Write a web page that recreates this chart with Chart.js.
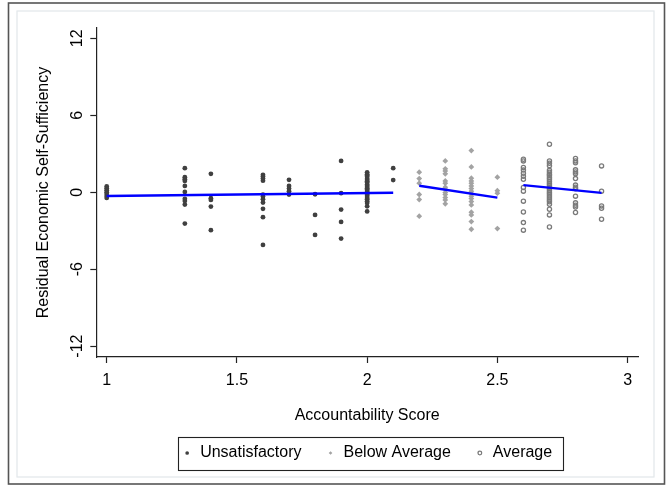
<!DOCTYPE html>
<html><head><meta charset="utf-8">
<script src="https://cdn.jsdelivr.net/npm/chart.js@4.4.0/dist/chart.umd.min.js"></script>
<style>html,body{margin:0;padding:0;background:#fff;} canvas{display:block;}</style>
</head><body>
<canvas id="c" width="669" height="485"></canvas>
<script>
const seriesNames = ['Unsatisfactory', 'Below Average', 'Average'];
const xTicks = [1, 1.5, 2, 2.5, 3];
const yTicks = [-12, -6, 0, 6, 12];

const unsatScores = [1.0, 1.3, 1.4, 1.6, 1.7, 1.8, 1.9, 2.0, 2.1];
const unsatResiduals = [
  [0.45, 0.3, 0.15, 0.0, -0.15, -0.3, -0.45],
  [1.87, 1.17, 1.01, 0.88, 0.49, 0.02, -0.52, -0.68, -0.97, -2.45],
  [1.43, -0.47, -0.6, -1.12, -2.96],
  [1.35, 1.22, 1.06, 0.9, -0.19, -0.34, -0.55, -0.81, -1.3, -1.95, -4.11],
  [0.96, 0.49, 0.28, 0.08, -0.19],
  [-0.16, -1.77, -3.33],
  [2.44, -0.08, -1.36, -2.32, -3.62],
  [1.55, 1.4, 1.3, 1.2, 1.05, 0.95, 0.85, 0.75, 0.6, 0.5, 0.4, 0.3, 0.2, 0.1, 0.0, -0.1, -0.2, -0.3, -0.45, -0.55, -0.7, -0.85, -1.1, -1.5],
  [1.87, 0.94]
];

const belowScores = [2.2, 2.3, 2.4, 2.5];
const belowResiduals = [
  [1.56, 1.06, 0.7, -0.18, -0.58, -1.87],
  [2.44, 1.82, 1.66, 1.43, 0.88, 0.7, 0.39, 0.23, -0.03, -0.19, -0.42, -0.6, -0.91],
  [3.24, 1.97, 1.09, 0.88, 0.7, 0.49, 0.28, 0.08, -0.11, -0.31, -0.5, -0.73, -0.99, -1.56, -1.77, -2.29, -2.89],
  [1.17, 0.12, -0.08, -2.84]
];

const avgScores = [2.6, 2.7, 2.8, 2.9];
const avgResiduals = [
  [2.57, 2.44, 1.92, 1.72, 1.48, 1.25, 1.01, 0.36, 0.08, -0.7, -1.54, -2.37, -2.96],
  [3.74, 2.44, 2.26, 2.07, 1.7, 1.55, 1.4, 1.3, 1.15, 1.0, 0.85, 0.7, 0.55, 0.4, 0.3, 0.15, 0.0, -0.15, -0.3, -0.45, -0.6, -0.75, -0.94, -1.33, -1.77, -2.71],
  [2.62, 2.44, 2.29, 1.74, 1.58, 1.43, 1.06, 0.55, 0.39, 0.26, -0.31, -0.83, -1.01, -1.15, -1.59],
  [2.05, 0.08, -1.07, -1.25, -2.11]
];

const unsatFitX = [1.0, 2.1];
const unsatFitY = [-0.3, -0.04];
const belowFitX = [2.2, 2.5];
const belowFitY = [0.5, -0.42];
const avgFitX = [2.6, 2.9];
const avgFitY = [0.55, -0.05];

const FONT = '"Liberation Sans", Arial, Helvetica, sans-serif';

function toPoints(scores, residuals) {
  const pts = [];
  scores.forEach((s, i) => residuals[i].forEach(r => pts.push({x: s, y: r})));
  return pts;
}
function toLine(xs, ys) { return xs.map((x, i) => ({x: x, y: ys[i]})); }

const framePlugin = {
  id: 'frames',
  beforeDraw(chart) {
    const ctx = chart.ctx;
    ctx.save();
    ctx.fillStyle = '#ffffff';
    ctx.fillRect(0, 0, chart.width, chart.height);
    ctx.strokeStyle = '#e2e7ea';
    ctx.lineWidth = 1.2;
    ctx.strokeRect(17, 11, 637, 466);
    ctx.strokeStyle = '#555555';
    ctx.lineWidth = 1.6;
    ctx.strokeRect(8.5, 3, 656, 481);
    ctx.restore();
  },
  afterDraw(chart) {
    const lg = chart.legend;
    const hb = lg && lg.legendHitBoxes;
    if (!hb || !hb.length) return;
    const ctx = chart.ctx;
    const first = hb[0], last = hb[hb.length - 1];
    const cy = first.top + first.height / 2;
    const x0 = first.left - 4.5, x1 = last.left + last.width + 10;
    ctx.save();
    ctx.strokeStyle = '#222222';
    ctx.lineWidth = 1.1;
    ctx.strokeRect(Math.round(x0) + 0.5, Math.round(cy - 16.5) + 0.5, Math.round(x1 - x0), 33);
    ctx.restore();
  }
};

const axisGrid = {display: true, drawOnChartArea: false, drawTicks: true, tickLength: 6, tickColor: '#222', tickWidth: 1.2};
const axisBorder = {display: true, color: '#222', width: 1.2};

new Chart(document.getElementById('c'), {
  type: 'scatter',
  data: {
    datasets: [
      {label: seriesNames[0], data: toPoints(unsatScores, unsatResiduals), pointStyle: 'circle', pointRadius: 2.4,
       backgroundColor: '#404040', borderColor: '#404040', borderWidth: 0, order: 1},
      {label: seriesNames[1], data: toPoints(belowScores, belowResiduals), pointStyle: 'rectRot', pointRadius: 2.9,
       backgroundColor: '#a3a3a3', borderColor: '#a3a3a3', borderWidth: 0, order: 1},
      {label: seriesNames[2], data: toPoints(avgScores, avgResiduals), pointStyle: 'circle', pointRadius: 2.1,
       backgroundColor: 'rgba(0,0,0,0)', borderColor: '#7a7a7a', borderWidth: 1.3, order: 1},
      {label: 'fit1', data: toLine(unsatFitX, unsatFitY), showLine: true, pointRadius: 0, borderColor: '#0000ff', borderWidth: 2.4, fill: false, order: 0},
      {label: 'fit2', data: toLine(belowFitX, belowFitY), showLine: true, pointRadius: 0, borderColor: '#0000ff', borderWidth: 2.4, fill: false, order: 0},
      {label: 'fit3', data: toLine(avgFitX, avgFitY), showLine: true, pointRadius: 0, borderColor: '#0000ff', borderWidth: 2.4, fill: false, order: 0}
    ]
  },
  options: {
    responsive: false,
    animation: false,
    devicePixelRatio: 1,
    layout: {padding: {left: 20, right: 31, top: 28, bottom: 14}},
    plugins: {
      tooltip: {enabled: false},
      legend: {
        position: 'bottom',
        fullSize: false,
        labels: {
          usePointStyle: true, boxWidth: 10, boxHeight: 2.6, padding: 24, color: '#000',
          font: {family: FONT, size: 16},
          filter: item => item.datasetIndex < 3
        }
      }
    },
    scales: {
      x: {
        type: 'linear', min: 0.96, max: 3.04,
        afterBuildTicks: s => { s.ticks = xTicks.map(v => ({value: v})); },
        afterFit: s => { s.height = 64; },
        grid: axisGrid,
        border: axisBorder,
        ticks: {color: '#000', font: {family: FONT, size: 16}, padding: 8, autoSkip: false, maxRotation: 0, callback: v => String(v)},
        title: {display: true, text: 'Accountability Score', color: '#000', font: {family: FONT, size: 16}, padding: {top: 0, bottom: -4.6}}
      },
      y: {
        type: 'linear', min: -12.85, max: 12.8,
        afterBuildTicks: s => { s.ticks = yTicks.map(v => ({value: v})); },
        afterFit: s => { s.width = 76.3; },
        grid: axisGrid,
        border: axisBorder,
        ticks: {color: '#000', font: {family: FONT, size: 16}, padding: 1, autoSkip: false, minRotation: 90, maxRotation: 90, crossAlign: 'center', callback: v => String(v)},
        title: {display: true, text: 'Residual Economic Self-Sufficiency', color: '#000', font: {family: FONT, size: 16}, padding: {top: 14, bottom: 0}}
      }
    }
  },
  plugins: [framePlugin]
});
</script>
</body></html>
